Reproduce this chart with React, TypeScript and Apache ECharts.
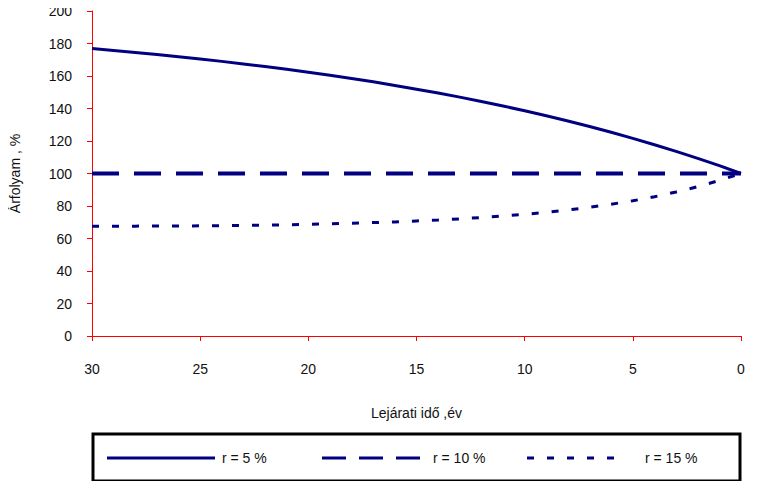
import React, { useEffect, useRef } from "react";
import * as echarts from "echarts";

const years = [30, 29, 28, 27, 26, 25, 24, 23, 22, 21, 20, 19, 18, 17, 16, 15, 14, 13, 12, 11, 10, 9, 8, 7, 6, 5, 4, 3, 2, 1, 0];
const r5 = [176.9, 175.7, 174.5, 173.2, 171.9, 170.5, 169.0, 167.4, 165.8, 164.1, 162.3, 160.4, 158.4, 156.4, 154.2, 151.9, 149.5, 147.0, 144.3, 141.5, 138.6, 135.5, 132.3, 128.9, 125.4, 121.6, 117.7, 113.6, 109.3, 104.8, 100];
const r10 = [100, 100, 100, 100, 100, 100, 100, 100, 100, 100, 100, 100, 100, 100, 100, 100, 100, 100, 100, 100, 100, 100, 100, 100, 100, 100, 100, 100, 100, 100, 100];
const r15 = [67.6, 67.6, 67.6, 67.7, 67.7, 67.8, 67.9, 68.0, 68.2, 68.4, 68.7, 69.0, 69.4, 69.8, 70.2, 70.8, 71.4, 72.1, 72.9, 73.8, 74.9, 76.1, 77.6, 79.2, 81.1, 83.2, 85.7, 88.6, 91.9, 95.7, 100];
const seriesNames = ["r = 5 %", "r = 10 %", "r = 15 %"];
const xTitle = "Lejárati idő ,év";
const yTitle = "Árfolyam , %";

const NAVY = "#000080";
const FONT = "Liberation Sans, Arial, sans-serif";

function pairs(vals: number[]) {
  return years.map((y, i) => [y, vals[i]]);
}

export default function App() {
  const ref = useRef<HTMLDivElement>(null);
  useEffect(() => {
    if (!ref.current) return;
    const chart = echarts.init(ref.current, null, { renderer: "svg" });
    const legendY = 458;
    const legendText = (x: number, t: string) => ({
      type: "text",
      x,
      y: legendY,
      style: { text: t, fill: "#111", font: `14px ${FONT}`, verticalAlign: "middle" },
    });
    const legendLine = (x1: number, x2: number, width: number, dash: number[] | null) => ({
      type: "line",
      shape: { x1, y1: legendY, x2, y2: legendY },
      style: { stroke: NAVY, lineWidth: width, lineDash: dash || undefined },
    });
    chart.setOption({
      animation: false,
      backgroundColor: "#fff",
      grid: { left: 92, right: 29, top: 11, bottom: 153 },
      xAxis: {
        type: "value",
        min: 0,
        max: 30,
        interval: 5,
        inverse: true,
        name: xTitle,
        nameLocation: "middle",
        nameGap: 70,
        nameTextStyle: { color: "#111", fontSize: 14, fontFamily: FONT },
        axisLine: { onZero: false, lineStyle: { color: "#ff0000", width: 1 } },
        axisTick: { show: true, length: 5, lineStyle: { color: "#ff0000" } },
        axisLabel: { color: "#111", fontSize: 14, fontFamily: FONT, margin: 26 },
        splitLine: { show: false },
      },
      yAxis: {
        type: "value",
        min: 0,
        max: 200,
        interval: 20,
        position: "left",
        name: yTitle,
        nameLocation: "middle",
        nameRotate: 90,
        nameGap: 70,
        nameTextStyle: { color: "#111", fontSize: 14, fontFamily: FONT },
        axisLine: { show: true, onZero: false, lineStyle: { color: "#ff0000", width: 1 } },
        axisTick: { show: true, length: 5, lineStyle: { color: "#ff0000" } },
        axisLabel: { color: "#111", fontSize: 14, fontFamily: FONT, margin: 20 },
        splitLine: { show: false },
      },
      series: [
        {
          name: seriesNames[0],
          type: "line",
          data: pairs(r5),
          showSymbol: false,
          symbol: "none",
          lineStyle: { color: NAVY, width: 3 },
        },
        {
          name: seriesNames[1],
          type: "line",
          data: pairs(r10),
          showSymbol: false,
          symbol: "none",
          lineStyle: { color: NAVY, width: 4, type: [27, 15] },
        },
        {
          name: seriesNames[2],
          type: "line",
          data: pairs(r15),
          showSymbol: false,
          symbol: "none",
          lineStyle: { color: NAVY, width: 3, type: [7, 13] },
        },
      ],
      graphic: [
        {
          type: "rect",
          shape: { x: 93, y: 434, width: 647, height: 47 },
          style: { fill: "#fff", stroke: "#000", lineWidth: 3 },
        },
        legendLine(107, 215, 3, null),
        legendText(222, seriesNames[0]),
        legendLine(322, 425, 3, [24, 13]),
        legendText(433, seriesNames[1]),
        legendLine(527, 625, 3, [7, 13]),
        legendText(645, seriesNames[2]),
      ],
    });
    return () => chart.dispose();
  }, []);
  return <div ref={ref} style={{ width: 770, height: 489, margin: -8 }} />;
}
